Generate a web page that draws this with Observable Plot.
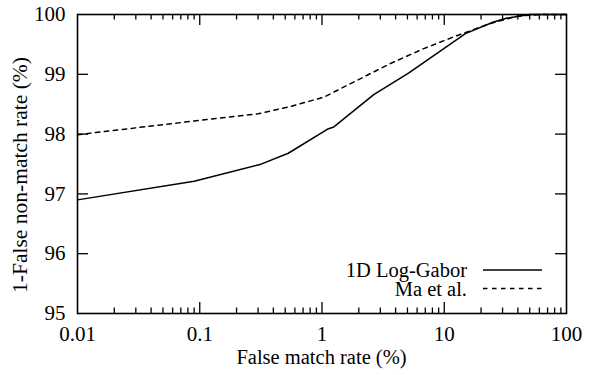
<!DOCTYPE html>
<html>
<head>
<meta charset="utf-8">
<script src="https://cdn.jsdelivr.net/npm/d3@7"></script>
<script src="https://cdn.jsdelivr.net/npm/@observablehq/plot@0.6"></script>
<style>
  html, body { margin: 0; padding: 0; background: #fff; }
  #chart { position: relative; width: 591px; height: 375px; font-family: "Liberation Serif", "Times New Roman", serif; color: #000; }
  #chart svg text { font-family: "Liberation Serif", "Times New Roman", serif; }
  .lbl { position: absolute; white-space: nowrap; line-height: 1; font-size: 20.5px; }
</style>
</head>
<body>
<div id="chart"></div>
<script>
// ---- data ----
const logGaborFMR = [0.01, 0.09, 0.31, 0.53, 1.13, 1.25, 2.65, 5.1, 14.9, 25, 32.7, 50, 100];
const logGaborRate = [96.90, 97.21, 97.49, 97.68, 98.09, 98.12, 98.66, 99.02, 99.68, 99.87, 99.94, 100, 100];
const maFMR = [0.01, 0.1, 0.3, 0.55, 1.04, 1.94, 3.63, 6.8, 12.8, 23.9, 39.4, 60, 100];
const maRate = [97.99, 98.23, 98.34, 98.46, 98.62, 98.90, 99.18, 99.43, 99.65, 99.85, 99.97, 100, 100];
const seriesNames = ["1D Log-Gabor", "Ma et al."];

const xMajorTicks = [0.01, 0.1, 1, 10, 100];
const xTickLabels = ["0.01", "0.1", "1", "10", "100"];
const xMinorTicks = [0.02,0.03,0.04,0.05,0.06,0.07,0.08,0.09,
                     0.2,0.3,0.4,0.5,0.6,0.7,0.8,0.9,
                     2,3,4,5,6,7,8,9,
                     20,30,40,50,60,70,80,90];
const yTicks = [95, 96, 97, 98, 99, 100];
const xTitle = "False match rate (%)";
const yTitle = "1-False non-match rate (%)";

// ---- layout ----
const W = 591, H = 375;
const mL = 77, mR = 25, mT = 14, mB = 62;
const innerW = W - mL - mR, innerH = H - mT - mB;
const majorLen = 11, minorLen = 5.5;
const fs = 21;
const FONT = "Liberation Serif";

const logGabor = logGaborFMR.map((x, i) => ({x, y: logGaborRate[i]}));
const ma = maFMR.map((x, i) => ({x, y: maRate[i]}));
const innerYTicks = yTicks.filter(v => v > 95 && v < 100);
const innerXMajors = xMajorTicks.filter(v => v > 0.01 && v < 100);

const plot = Plot.plot({
  width: W, height: H,
  marginLeft: mL, marginRight: mR, marginTop: mT, marginBottom: mB,
  style: {fontSize: fs + "px", fontFamily: FONT, color: "#000", background: "#fff", overflow: "visible"},
  x: {type: "log", domain: [0.01, 100]},
  y: {domain: [95, 100]},
  marks: [
    Plot.tickX(innerXMajors, {x: d => d, insetTop: innerH - majorLen, stroke: "#000", strokeWidth: 1.3}),
    Plot.tickX(innerXMajors, {x: d => d, insetBottom: innerH - majorLen, stroke: "#000", strokeWidth: 1.3}),
    Plot.tickX(xMinorTicks, {x: d => d, insetTop: innerH - minorLen, stroke: "#000", strokeWidth: 1.3}),
    Plot.tickX(xMinorTicks, {x: d => d, insetBottom: innerH - minorLen, stroke: "#000", strokeWidth: 1.3}),
    Plot.tickY(innerYTicks, {y: d => d, insetRight: innerW - majorLen, stroke: "#000", strokeWidth: 1.3}),
    Plot.tickY(innerYTicks, {y: d => d, insetLeft: innerW - majorLen, stroke: "#000", strokeWidth: 1.3}),
    Plot.axisX({ticks: xMajorTicks, tickFormat: d => xTickLabels[xMajorTicks.indexOf(d)], tickSize: 0, tickPadding: 13, label: null, fontSize: fs, fontFamily: FONT, fill: "#000"}),
    Plot.axisY({ticks: yTicks, tickFormat: d => String(d), tickSize: 0, tickPadding: 12, label: null, fontSize: fs, fontFamily: FONT, fill: "#000"}),
    Plot.line(ma, {x: "x", y: "y", stroke: "#000", strokeWidth: 1.5, strokeDasharray: "4.5,4.5", curve: "linear"}),
    Plot.line(logGabor, {x: "x", y: "y", stroke: "#000", strokeWidth: 1.5, curve: "linear"}),
    Plot.frame({stroke: "#000", strokeWidth: 1.6})
  ]
});

const chart = document.getElementById("chart");
chart.appendChild(plot);

const svg = d3.select(plot);
svg.attr("font-family", FONT);
svg.selectAll("text").attr("font-family", FONT);

// legend line samples
const lx1 = W - mR - 83, lx2 = W - mR - 24;
const ly = [H - mB - 43, H - mB - 24.5];
svg.append("line").attr("x1", lx1).attr("x2", lx2)
  .attr("y1", ly[0]).attr("y2", ly[0])
  .attr("stroke", "#000").attr("stroke-width", 1.5);
svg.append("line").attr("x1", lx1).attr("x2", lx2)
  .attr("y1", ly[1]).attr("y2", ly[1])
  .attr("stroke", "#000").attr("stroke-width", 1.5).attr("stroke-dasharray", "4.5,4.5");

// axis titles and legend labels (HTML text laid over the chart)
function label(text, css) {
  const d = document.createElement("div");
  d.className = "lbl";
  d.textContent = text;
  Object.assign(d.style, css);
  chart.appendChild(d);
}
label(xTitle, {left: (mL + innerW / 2) + "px", top: (H - mB + 44) + "px", transform: "translate(-50%, -50%)"});
label(yTitle, {left: "20.5px", top: "175px", fontSize: "21.5px", transform: "translate(-50%, -50%) rotate(-90deg)"});
label(seriesNames[0], {right: (mR + 99) + "px", top: ly[0] + "px", transform: "translateY(-50%)"});
label(seriesNames[1], {right: (mR + 99) + "px", top: ly[1] + "px", transform: "translateY(-50%)"});
</script>
</body>
</html>
